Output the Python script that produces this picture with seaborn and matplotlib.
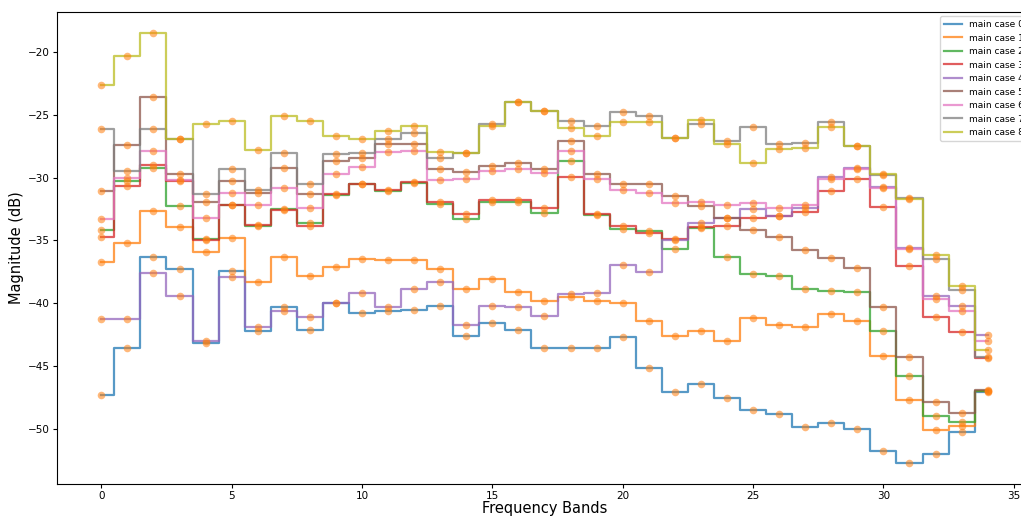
import numpy as np
import pandas as pd
import matplotlib
matplotlib.use("Agg")
import matplotlib.pyplot as plt
import seaborn as sns

# magnitude per frequency band, one list per case
case0 = [-47.3, -43.6, -36.3, -37.3, -43.2, -37.4, -42.2, -40.3, -42.1, -39.95, -40.8, -40.65,
         -40.55, -40.25, -42.6, -41.55, -42.15, -43.6, -43.55, -43.6, -42.7, -45.2, -47.1, -46.45,
         -47.55, -48.55, -48.8, -49.9, -49.55, -50.0, -51.8, -52.7, -52.0, -50.3, -47.1]
case1 = [-36.7, -35.2, -32.65, -33.9, -35.9, -34.8, -38.3, -36.3, -37.8, -37.1, -36.5, -36.6,
         -36.6, -37.3, -38.9, -38.1, -39.1, -39.85, -39.5, -39.85, -39.95, -41.45, -42.6, -42.25,
         -43.0, -41.15, -41.75, -41.9, -40.85, -41.45, -44.25, -47.75, -50.1, -49.75, -47.0]
case2 = [-34.2, -30.3, -29.25, -32.25, -34.85, -32.15, -33.85, -32.5, -33.6, -31.35, -30.5, -31.05,
         -30.4, -32.1, -33.3, -31.95, -31.9, -32.8, -28.7, -32.95, -34.1, -34.25, -35.7, -34.05,
         -36.35, -37.7, -37.85, -38.85, -39.0, -39.1, -42.25, -45.8, -49.0, -49.5, -47.0]
case3 = [-34.7, -30.7, -29.0, -30.25, -35.0, -32.2, -33.8, -32.6, -33.85, -31.3, -30.5, -30.95,
         -30.35, -31.95, -32.9, -31.8, -31.8, -32.4, -29.95, -32.9, -33.85, -34.4, -34.85, -33.95,
         -33.85, -33.25, -33.05, -32.7, -31.05, -30.1, -32.3, -37.0, -41.1, -42.3, -44.4]
case4 = [-41.3, -41.3, -37.6, -39.4, -43.0, -37.9, -41.9, -40.6, -41.1, -39.95, -39.2, -40.3,
         -38.9, -38.3, -41.75, -40.2, -40.3, -41.0, -39.25, -39.2, -36.95, -37.5, -34.95, -33.6,
         -33.2, -32.5, -33.05, -32.4, -29.95, -29.25, -30.75, -35.6, -39.45, -40.25, -42.5]
case5 = [-31.1, -27.4, -23.6, -29.7, -31.95, -30.3, -31.2, -29.2, -31.3, -28.65, -28.45, -27.3,
         -27.3, -29.35, -29.55, -29.1, -28.8, -29.35, -27.1, -29.7, -30.5, -30.5, -31.45, -32.25,
         -33.25, -34.15, -34.75, -35.8, -36.4, -37.2, -40.3, -44.3, -47.9, -48.75, -46.9]
case6 = [-33.3, -30.0, -27.9, -30.15, -33.25, -31.2, -32.2, -30.8, -32.4, -29.7, -29.15, -27.95,
         -27.9, -30.2, -30.1, -29.5, -29.3, -29.6, -27.9, -30.1, -30.95, -31.2, -32.0, -31.9,
         -32.2, -32.0, -32.4, -32.15, -30.1, -29.3, -30.8, -35.7, -39.65, -40.65, -43.0]
case7 = [-26.1, -29.45, -26.15, -26.9, -31.3, -29.35, -30.95, -28.0, -30.5, -28.15, -28.05, -26.95,
         -26.45, -28.4, -28.05, -25.7, -23.95, -24.65, -25.5, -25.9, -24.8, -25.1, -26.85, -25.75,
         -27.1, -25.95, -27.35, -27.2, -25.55, -27.5, -29.8, -31.65, -36.5, -38.95, -44.3]
case8 = [-22.65, -20.3, -18.5, -26.9, -25.75, -25.5, -27.8, -25.1, -25.5, -26.7, -26.95, -26.25,
         -25.85, -27.95, -28.05, -25.9, -23.95, -24.7, -26.05, -26.65, -25.55, -25.6, -26.85, -25.4,
         -27.35, -28.8, -27.75, -27.65, -25.95, -27.5, -29.7, -31.7, -36.2, -38.6, -43.75]

cases = [case0, case1, case2, case3, case4, case5, case6, case7, case8]
labels = ["main case %d" % i for i in range(len(cases))]

# long-form table for seaborn
rows = []
for lab, vals in zip(labels, cases):
    for band, v in enumerate(vals):
        rows.append((band, v, lab))
df = pd.DataFrame(rows, columns=["band", "mag", "case"])

fig = plt.figure(figsize=(10.21, 5.16), dpi=100)
ax = fig.add_axes([0.0558, 0.062, 0.955, 0.915])

sns.lineplot(data=df, x="band", y="mag", hue="case", palette="tab10",
             drawstyle="steps-mid", alpha=0.75, linewidth=1.6, ax=ax)
handles, labs = ax.get_legend_handles_labels()

# orange dots on every band of every case
sns.scatterplot(data=df, x="band", y="mag", color="C1", alpha=0.55, s=30,
                linewidth=0, ax=ax, legend=False, zorder=3)

ax.legend(handles, labs, loc="upper right", fontsize=6.5)
ax.set_xlabel("Frequency Bands", fontsize=10.5, labelpad=0)
ax.set_ylabel("Magnitude (dB)", fontsize=10.5, labelpad=3)
ax.tick_params(labelsize=7.5, length=3, pad=2)
ax.margins(x=0.05, y=0.05)

fig.savefig("out.png", dpi=100)
